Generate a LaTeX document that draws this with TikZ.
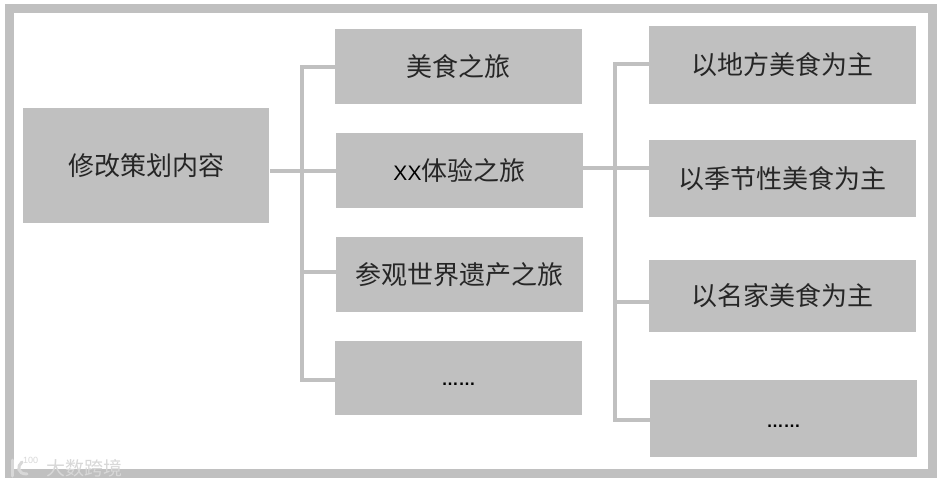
\documentclass[tikz,border=0pt]{standalone}
\usepackage{fontspec}
\setmainfont{Liberation Sans}
\newfontfamily\cjk{Noto Sans CJK SC}
\newfontfamily\latinface{Liberation Sans}
\definecolor{boxgray}{RGB}{192,192,192}
\definecolor{markgray}{RGB}{216,216,216}
\tikzset{
  box/.style={fill=boxgray,draw=none,inner sep=0pt,font=\cjk\fontsize{26}{30}\selectfont,text=black!85},
  link/.style={draw=boxgray,line width=4pt,line cap=butt},
  logostroke/.style={draw=markgray,line width=3pt,line cap=round},
}
\newcommand{\boxat}[6]{\node[box,minimum width=#4pt-#3pt,minimum height=#6pt-#5pt] (#1) at ({(#3+#4)/2},{(#5+#6)/2}) {#2};}
\newcommand{\lowdots}[1]{\raisebox{-#1}[0pt][0pt]{\latinface\bfseries\fontsize{17}{20}\selectfont\textcolor{black}{……}}}
\begin{document}
\begin{tikzpicture}[x=1pt,y=-1pt]
\useasboundingbox (0,0) rectangle (943,485);
\fill[white] (0,0) rectangle (943,485);
\draw[boxgray,line width=9pt] (9.5,8.5) rectangle (932,473.5);
\boxat{A}{修改策划内容}{23}{269}{108}{223}
\boxat{B1}{美食之旅}{335}{582}{29}{104}
\boxat{B2}{{\latinface\fontsize{21}{24}\selectfont\textcolor{black}{XX}}体验之旅}{336}{583}{133}{208}
\boxat{B3}{参观世界遗产之旅}{336}{583}{237}{312}
\boxat{B4}{\lowdots{7pt}}{335}{582}{341}{415}
\boxat{C1}{以地方美食为主}{649}{916}{26}{104}
\boxat{C2}{以季节性美食为主}{649}{916}{140}{217}
\boxat{C3}{以名家美食为主}{649}{916}{260}{332}
\boxat{C4}{\lowdots{9pt}}{650}{917}{380}{457}
\coordinate (busL) at (302,171);
\coordinate (busR) at (615,168);
\draw[link] ([xshift=1pt]A.east |- B2.west) -- (B2.west);
\draw[link] (B1.west) -| (busL);
\draw[link] (busL) |- ([yshift=2.5pt]B3.west);
\draw[link] (busL) |- ([yshift=-2pt]B4.west);
\draw[link] (B2.east |- busR) -- (C2.west |- busR);
\draw[link] ([yshift=1pt]C1.west) -| (busR);
\draw[link] (busR) |- ([yshift=-6pt]C3.west);
\draw[link] (busR) |- ([yshift=-1.5pt]C4.west);
\node[text=markgray,font=\cjk\fontsize{19}{22}\selectfont,inner sep=0pt,anchor=west] (mark) at (46,468) {大数跨境};
\node[text=markgray,font=\latinface\fontsize{9}{11}\selectfont,inner sep=0pt,anchor=west] (num) at (23,460) {100};
\draw[logostroke] (12,460) -- (12,476);
\draw[logostroke] (22,462) .. controls (17,466) and (17,474) .. (27,474);
\end{tikzpicture}
\end{document}
